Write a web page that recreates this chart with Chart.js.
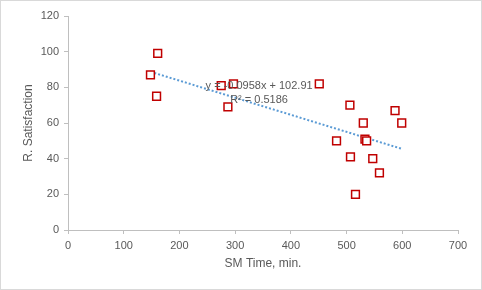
<!DOCTYPE html>
<html>
<head>
<meta charset="utf-8">
<script src="https://cdn.jsdelivr.net/npm/chart.js@4"></script>
<style>
  html, body { margin: 0; padding: 0; background: #fff; }
  #contenedor { width: 482px; height: 290px; }
</style>
</head>
<body>
<div id="contenedor"><canvas id="scatterChart" width="482" height="290"></canvas></div>
<script>
// === Datos ===
const smTime = [148, 161, 159, 275, 297, 287, 451, 506, 587, 530, 599, 482, 533, 536, 507, 547, 559, 516];
const satisfaction = [87, 99, 75, 81, 82, 69, 82, 70, 67, 60, 60, 50, 51, 50, 41, 40, 32, 20];

// Línea de tendencia (ecuación de Excel)
const pendiente = -0.0958;
const intercepto = 102.91;
const r2 = 0.5186;

const xTitulo = 'SM Time, min.';
const yTitulo = 'R. Satisfaction';

const gris = '#595959';
const lineaEje = '#bfbfbf';

const puntos = smTime.map((x, i) => ({ x: x, y: satisfaction[i] }));
const xMin = Math.min(...smTime);
const xMax = Math.max(...smTime);
const tendencia = [
  { x: xMin, y: pendiente * xMin + intercepto },
  { x: xMax, y: pendiente * xMax + intercepto }
];

// Fondo y borde del gráfico
const marcoPlugin = {
  id: 'marco',
  beforeDraw(chart) {
    const ctx = chart.ctx;
    ctx.save();
    ctx.fillStyle = '#ffffff';
    ctx.fillRect(0, 0, chart.width, chart.height);
    ctx.strokeStyle = '#d9d9d9';
    ctx.lineWidth = 1;
    ctx.strokeRect(0.5, 0.5, chart.width - 1, chart.height - 1);
    ctx.restore();
  }
};

// Texto de la ecuación
const ecuacionPlugin = {
  id: 'ecuacion',
  afterDatasetsDraw(chart) {
    const ctx = chart.ctx;
    const x = chart.scales.x;
    const y = chart.scales.y;
    ctx.save();
    ctx.font = '11px "Liberation Sans", Arial, sans-serif';
    ctx.fillStyle = gris;
    ctx.textBaseline = 'middle';
    ctx.fillText('y = ' + pendiente + 'x + ' + intercepto, x.getPixelForValue(247), y.getPixelForValue(81));
    ctx.fillText('R² = ' + r2, x.getPixelForValue(291), y.getPixelForValue(73));
    ctx.restore();
  }
};

const ejeComun = (titulo, max, paso, titlePad) => ({
  type: 'linear',
  min: 0,
  max: max,
  ticks: {
    stepSize: paso,
    color: gris,
    padding: 5,
    font: { family: '"Liberation Sans", Arial, sans-serif', size: 11 }
  },
  grid: {
    display: true,
    drawOnChartArea: false,
    drawTicks: true,
    tickLength: 4,
    color: lineaEje
  },
  border: { display: true, color: lineaEje, width: 1 },
  title: {
    display: true,
    text: titulo,
    color: gris,
    padding: titlePad,
    font: { family: '"Liberation Sans", Arial, sans-serif', size: 12 }
  }
});

const ejeX = ejeComun(xTitulo, 700, 100, { top: 0, bottom: 19 });
ejeX.afterFit = (scale) => { scale.height = 60; };
const ejeY = ejeComun(yTitulo, 120, 20, { top: 21, bottom: 0 });
ejeY.afterFit = (scale) => { scale.width = 68; };

new Chart(document.getElementById('scatterChart'), {
  type: 'scatter',
  data: {
    datasets: [
      {
        label: 'R. Satisfaction',
        data: puntos,
        pointStyle: 'rect',
        pointRadius: 5.5,
        pointHoverRadius: 5.5,
        backgroundColor: '#ffffff',
        borderColor: '#c00000',
        borderWidth: 1.5,
        order: 1
      },
      {
        label: 'Linear',
        type: 'line',
        data: tendencia,
        borderColor: '#5b9bd5',
        borderWidth: 2,
        borderDash: [2, 2],
        pointRadius: 0,
        fill: false,
        order: 2
      }
    ]
  },
  options: {
    responsive: false,
    animation: false,
    layout: { padding: { top: 16, right: 24, bottom: 0, left: 0 } },
    plugins: {
      legend: { display: false },
      tooltip: { enabled: false }
    },
    scales: { x: ejeX, y: ejeY }
  },
  plugins: [marcoPlugin, ecuacionPlugin]
});
</script>
</body>
</html>
